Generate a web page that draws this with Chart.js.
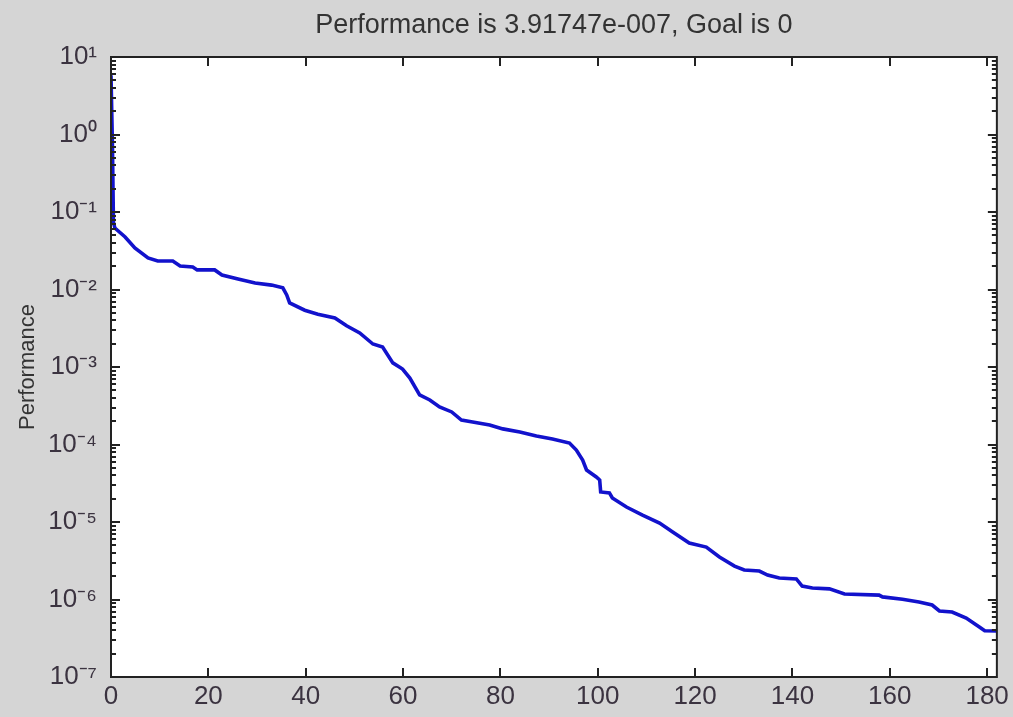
<!DOCTYPE html>
<html>
<head>
<meta charset="utf-8">
<script src="https://cdn.jsdelivr.net/npm/chart.js@4/dist/chart.umd.min.js"></script>
<style>
  html, body { margin: 0; padding: 0; background: #d5d5d5; }
  canvas { display: block; }
</style>
</head>
<body>
<canvas id="c" width="1013" height="717"></canvas>
<script>
// ---- data ----
const epochs = [0, 0.3, 0.5, 0.8, 2.9, 4.9, 7.6, 9.6, 12.7, 14.2, 16.8, 17.7, 21.3, 22.8, 26.1, 29.6, 33.0, 35.3, 36.1, 36.7,
  39.8, 42.5, 46.0, 48.4, 51.1, 53.8, 55.8, 57.9, 59.9, 61.4, 63.4, 65.5, 67.5, 70.0, 72.0, 74.3, 77.8, 80.5, 84.0, 87.4,
  90.7, 94.2, 95.6, 96.9, 97.7, 99.7, 100.4, 100.6, 102.4, 103.0, 105.9, 109.2, 112.7, 115.4, 118.8, 122.3, 125.0, 128.1, 130.1, 133.2,
  134.9, 137.3, 140.8, 142.0, 144.1, 147.6, 150.7, 157.8, 158.5, 162.6, 166.0, 168.7, 170.2, 172.8, 175.7, 178.4, 179.5, 182];
const performance = [5.8, 0.7, 0.074, 0.062, 0.0476, 0.0343, 0.0255, 0.0233, 0.0233, 0.0201, 0.0195, 0.0179, 0.0179, 0.0154, 0.0137, 0.0121, 0.0114, 0.0105, 0.0085, 0.0067,
  0.0054, 0.0048, 0.0043, 0.0034, 0.00275, 0.00198, 0.00181, 0.00113, 0.00094, 0.00072, 0.000436, 0.000375, 0.000305, 0.000263, 0.000207, 0.000195, 0.000179, 0.000159, 0.000145, 0.000129,
  0.000118, 0.0001045, 0.0000849, 0.0000631, 0.0000469, 0.0000381, 0.0000348, 0.0000244, 0.0000237, 0.0000204, 0.0000156, 0.0000123, 0.0000097, 0.00000743, 0.00000536, 0.00000475, 0.00000353, 0.0000027, 0.0000024, 0.00000233,
  0.00000207, 0.00000189, 0.00000184, 0.00000149, 0.00000141, 0.00000137, 0.00000118, 0.00000114, 0.00000108, 0.00000101, 9.28e-7, 8.49e-7, 7.11e-7, 6.9e-7, 5.77e-7, 4.42e-7, 3.95e-7, 3.917e-7];
const xTicks = [0, 20, 40, 60, 80, 100, 120, 140, 160, 180];
const yMajorTicks = [1e-7, 1e-6, 1e-5, 1e-4, 1e-3, 1e-2, 1e-1, 1e0, 1e1];
const yTickLabels = ['10\u207B\u2077', '10\u207B\u2076', '10\u207B\u2075', '10\u207B\u2074', '10\u207B\u00B3', '10\u207B\u00B2', '10\u207B\u00B9', '10\u2070', '10\u00B9'];
const titleText = 'Performance is 3.91747e-007, Goal is 0';
const yTitle = 'Performance';

const points = epochs.map((e, i) => ({ x: e, y: performance[i] }));

const FONT = "'Liberation Sans', Arial, sans-serif";
const TEXT = '#3b3340';

function isMajor(v) {
  const l = Math.log10(v);
  return Math.abs(l - Math.round(l)) < 1e-9;
}

const framePlugin = {
  id: 'frame',
  beforeDraw(chart) {
    const { ctx, chartArea: a, width, height } = chart;
    ctx.save();
    ctx.fillStyle = '#d5d5d5';
    ctx.fillRect(0, 0, width, height);
    ctx.fillStyle = '#ffffff';
    ctx.fillRect(a.left, a.top, a.right - a.left, a.bottom - a.top);
    ctx.restore();
  },
  afterDraw(chart) {
    const { ctx, chartArea: a } = chart;
    const xs = chart.scales.x, ys = chart.scales.y;
    ctx.save();
    ctx.strokeStyle = '#222';
    ctx.lineWidth = 2;
    ctx.beginPath();
    xs.ticks.forEach(t => {
      const px = Math.round(xs.getPixelForValue(t.value));
      ctx.moveTo(px, a.bottom); ctx.lineTo(px, a.bottom - 9);
      ctx.moveTo(px, a.top); ctx.lineTo(px, a.top + 9);
    });
    ys.ticks.forEach(t => {
      const py = Math.round(ys.getPixelForValue(t.value));
      const len = isMajor(t.value) ? 9 : 5;
      ctx.moveTo(a.left, py); ctx.lineTo(a.left + len, py);
      ctx.moveTo(a.right, py); ctx.lineTo(a.right - len, py);
    });
    ctx.stroke();
    ctx.lineWidth = 2;
    ctx.strokeRect(a.left, a.top, a.right - a.left, a.bottom - a.top);
    ctx.restore();
  }
};

new Chart(document.getElementById('c'), {
  type: 'line',
  data: {
    datasets: [{
      data: points,
      borderColor: '#1212cc',
      borderWidth: 3.6,
      pointRadius: 0,
      tension: 0,
      fill: false
    }]
  },
  options: {
    responsive: false,
    devicePixelRatio: 1,
    animation: false,
    layout: { padding: { left: 0, right: 16, top: 0, bottom: 0 } },
    plugins: {
      legend: { display: false },
      tooltip: { enabled: false },
      title: {
        display: true,
        fullSize: false,
        text: titleText,
        color: '#333',
        font: { family: FONT, size: 27, weight: 'normal', lineHeight: 1.2 },
        padding: { top: 9, bottom: 15.6 }
      }
    },
    scales: {
      x: {
        type: 'linear',
        min: 0,
        max: 182,
        afterBuildTicks: s => { s.ticks = xTicks.map(v => ({ value: v })); },
        afterFit: s => { s.height = 40; },
        grid: { display: false, drawTicks: false },
        border: { display: false },
        ticks: {
          color: TEXT,
          font: { family: FONT, size: 26 },
          padding: 4,
          autoSkip: false,
          maxRotation: 0,
          callback: v => String(v)
        }
      },
      y: {
        type: 'logarithmic',
        min: 1e-7,
        max: 10,
        afterBuildTicks: s => {
          const t = [];
          for (let e = -7; e <= 0; e++) {
            for (let m = 1; m <= 9; m++) t.push({ value: m * Math.pow(10, e) });
          }
          t.push({ value: 10 });
          s.ticks = t;
        },
        afterFit: s => { s.width = 111; },
        grid: { display: false, drawTicks: false },
        border: { display: false },
        title: {
          display: true,
          text: yTitle,
          color: '#333',
          font: { family: FONT, size: 22 },
          padding: { top: 15, bottom: 0 }
        },
        ticks: {
          color: TEXT,
          font: { family: FONT, size: 26 },
          padding: 14,
          autoSkip: false,
          callback: v => {
            if (!isMajor(v)) return '';
            const idx = yMajorTicks.findIndex(m => Math.abs(Math.log10(m) - Math.log10(v)) < 1e-9);
            return idx >= 0 ? yTickLabels[idx] : '';
          }
        }
      }
    }
  },
  plugins: [framePlugin]
});
</script>
</body>
</html>
